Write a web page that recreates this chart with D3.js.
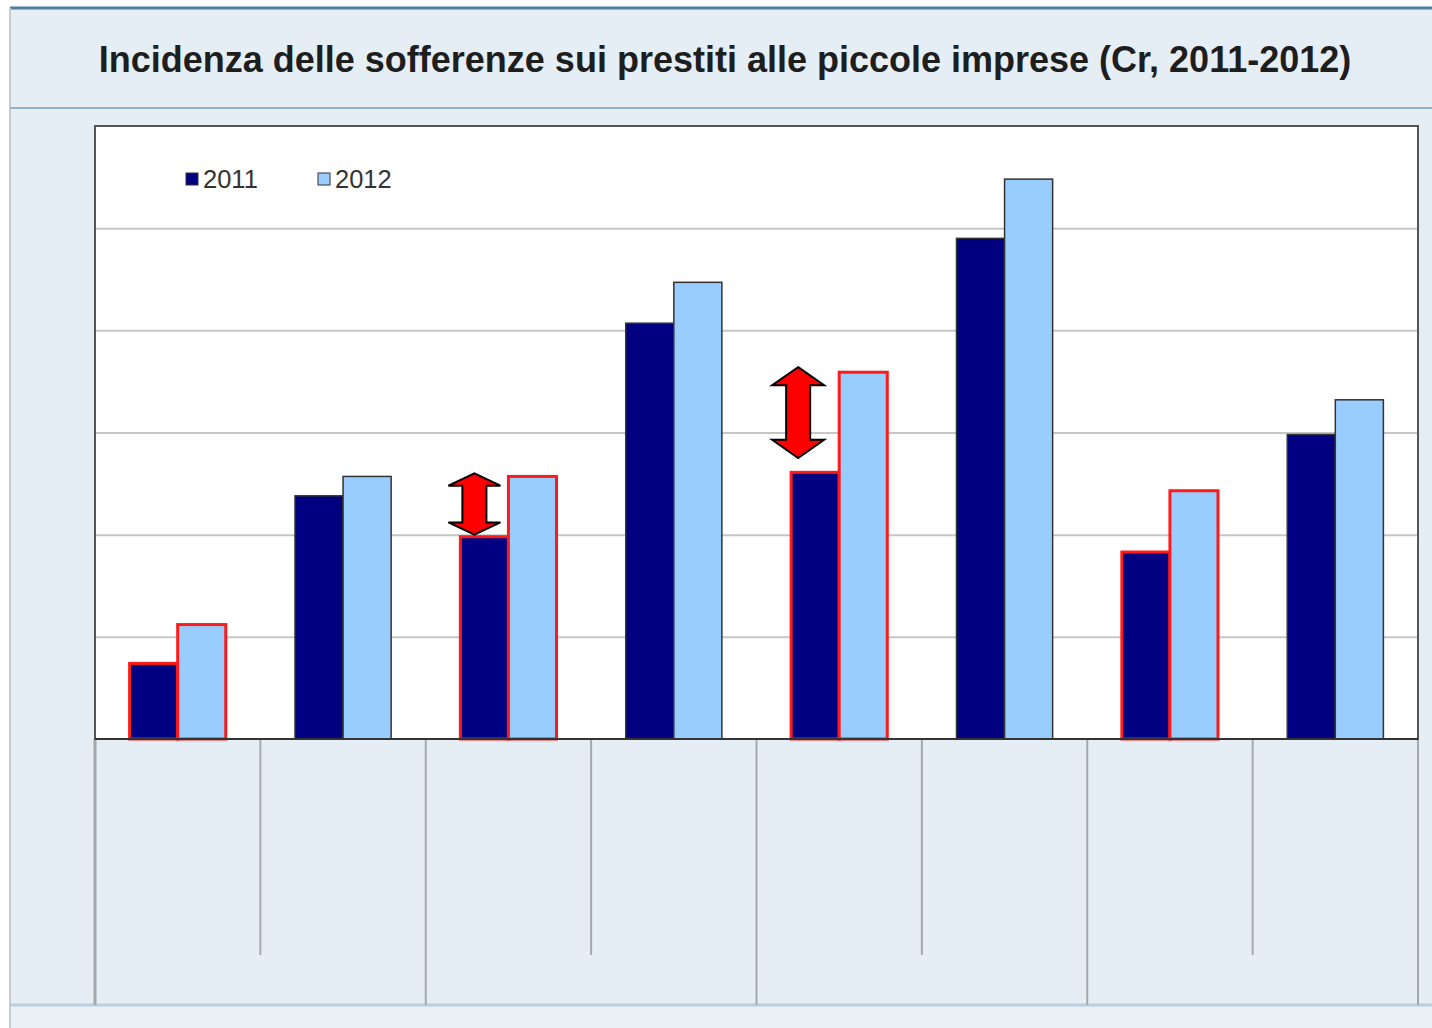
<!DOCTYPE html>
<html>
<head>
<meta charset="utf-8">
<script src="https://cdn.jsdelivr.net/npm/d3@7"></script>
<style>
  body { margin: 0; background: #fff; }
  svg { display: block; }
</style>
</head>
<body>
<div id="chart"></div>
<script>
// data
var title = 'Incidenza delle sofferenze sui prestiti alle piccole imprese (Cr, 2011-2012)';
var categories = ['c1', 'c2', 'c3', 'c4', 'c5', 'c6', 'c7', 'c8'];
var series = ['2011', '2012'];
var values2011 = [0.74, 2.38, 1.98, 4.07, 2.61, 4.90, 1.83, 2.98];
var values2012 = [1.12, 2.57, 2.57, 4.47, 3.59, 5.48, 2.43, 3.32];
var highlighted = ['c1', 'c3', 'c5', 'c7'];
var gridTicks = [0, 1, 2, 3, 4, 5, 6];
// red double arrows: category, from value, to value
var arrowCats = ['c3', 'c5'];
var arrowFrom = [2.0, 2.75];
var arrowTo = [2.6, 3.64];
var arrowShift = [-10, -17];

var colors = { '2011': '#000080', '2012': '#99ccff' };

var W = 1432, H = 1028;
var plot = { left: 95, right: 1418, top: 126, bottom: 739 };

var svg = d3.select('#chart')
	.append('svg')
	.attr('width', W)
	.attr('height', H);

// background panels
svg.append('rect')
	.attr('x', 10).attr('y', 8)
	.attr('width', W - 10).attr('height', H - 8)
	.attr('fill', '#e6eef5');
svg.append('rect')
	.attr('x', 10).attr('y', 1006)
	.attr('width', W - 10).attr('height', H - 1006)
	.attr('fill', '#eaf0f6');
svg.append('line')
	.attr('x1', 10).attr('x2', W).attr('y1', 8).attr('y2', 8)
	.attr('stroke', '#4f7f9e').attr('stroke-width', 3);
svg.append('line')
	.attr('x1', 10).attr('x2', 10).attr('y1', 8).attr('y2', H)
	.attr('stroke', '#c4ccd2').attr('stroke-width', 2);
svg.append('line')
	.attr('x1', 10).attr('x2', W).attr('y1', 108).attr('y2', 108)
	.attr('stroke', '#8fb3cc').attr('stroke-width', 2);
svg.append('line')
	.attr('x1', 10).attr('x2', W).attr('y1', 1005).attr('y2', 1005)
	.attr('stroke', '#b9cfe0').attr('stroke-width', 3);

// title
svg.append('text')
	.attr('x', 725)
	.attr('y', 72)
	.attr('text-anchor', 'middle')
	.style('font-family', 'Liberation Sans, Arial, Helvetica')
	.style('font-weight', 'bold')
	.style('font-size', '36px')
	.style('fill', '#1e1e1e')
	.text(title);

// scales
var x0 = d3.scaleBand()
	.domain(categories)
	.range([plot.left, plot.right])
	.paddingInner(0);
var x1 = d3.scaleBand()
	.domain(series)
	.range([0, x0.bandwidth()])
	.paddingInner(0)
	.paddingOuter(0.72);
var y = d3.scaleLinear()
	.domain([0, 6])
	.range([plot.bottom, plot.top]);

// table lines under the plot
var bounds = categories.map(function(c) { return x0(c); }).concat([plot.right]);
svg.selectAll('.table-line')
	.data(bounds)
	.enter()
	.append('line')
	.attr('class', 'table-line')
	.attr('x1', function(d) { return d; })
	.attr('x2', function(d) { return d; })
	.attr('y1', plot.bottom)
	.attr('y2', function(d, i) { return i % 2 === 0 ? 1005 : 955; })
	.attr('stroke', '#a4a9ad')
	.attr('stroke-width', function(d, i) { return i === 0 ? 3 : 2; });

// plot background
svg.append('rect')
	.attr('x', plot.left).attr('y', plot.top)
	.attr('width', plot.right - plot.left)
	.attr('height', plot.bottom - plot.top)
	.attr('fill', '#fff');

// gridlines
var grid = d3.axisLeft(y)
	.tickValues(gridTicks.slice(1, -1))
	.tickSize(-(plot.right - plot.left))
	.tickFormat('');
var gridG = svg.append('g')
	.attr('class', 'grid')
	.attr('transform', 'translate(' + plot.left + ',0)')
	.call(grid);
gridG.select('.domain').remove();
gridG.selectAll('line')
	.attr('stroke', '#c6c6c6')
	.attr('stroke-width', 2);

// bars
var rows = categories.map(function(c, i) {
	return { cat: c, vals: [values2011[i], values2012[i]] };
});
var groups = svg.selectAll('.group')
	.data(rows)
	.enter()
	.append('g')
	.attr('class', 'group')
	.attr('transform', function(d) { return 'translate(' + x0(d.cat) + ',0)'; });

groups.selectAll('rect')
	.data(function(d) {
		return series.map(function(s, j) {
			return { cat: d.cat, key: s, value: d.vals[j] };
		});
	})
	.enter()
	.append('rect')
	.attr('x', function(d) { return x1(d.key); })
	.attr('width', x1.bandwidth())
	.attr('y', function(d) { return y(d.value); })
	.attr('height', function(d) { return y(0) - y(d.value); })
	.attr('fill', function(d) { return colors[d.key]; })
	.attr('stroke', function(d) {
		return highlighted.indexOf(d.cat) >= 0 ? '#ff1a1a' : '#333';
	})
	.attr('stroke-width', function(d) {
		return highlighted.indexOf(d.cat) >= 0 ? 3 : 1.5;
	});

// plot frame
svg.append('rect')
	.attr('x', plot.left).attr('y', plot.top)
	.attr('width', plot.right - plot.left)
	.attr('height', plot.bottom - plot.top)
	.attr('fill', 'none')
	.attr('stroke', '#555')
	.attr('stroke-width', 2);
svg.append('line')
	.attr('x1', plot.left).attr('x2', plot.right)
	.attr('y1', plot.bottom).attr('y2', plot.bottom)
	.attr('stroke', '#333')
	.attr('stroke-width', 2);

// arrows
function arrowPath (cx, top, bottom) {
	var hw = 26, sw = 12;
	var hh = Math.min(20, (bottom - top) * 0.2);
	return 'M' + cx + ',' + top +
		'L' + (cx + hw) + ',' + (top + hh) +
		'L' + (cx + sw) + ',' + (top + hh) +
		'L' + (cx + sw) + ',' + (bottom - hh) +
		'L' + (cx + hw) + ',' + (bottom - hh) +
		'L' + cx + ',' + bottom +
		'L' + (cx - hw) + ',' + (bottom - hh) +
		'L' + (cx - sw) + ',' + (bottom - hh) +
		'L' + (cx - sw) + ',' + (top + hh) +
		'L' + (cx - hw) + ',' + (top + hh) + 'Z';
}
svg.selectAll('.arrow')
	.data(arrowCats)
	.enter()
	.append('path')
	.attr('class', 'arrow')
	.attr('d', function(c, i) {
		var cx = x0(c) + x1('2011') + x1.bandwidth() / 2 + arrowShift[i];
		return arrowPath(cx, y(arrowTo[i]), y(arrowFrom[i]));
	})
	.attr('fill', '#ff0000')
	.attr('stroke', '#000')
	.attr('stroke-width', 2)
	.attr('stroke-linejoin', 'miter');

// legend
var legend = svg.append('g')
	.attr('class', 'legend')
	.attr('transform', 'translate(186,173)');
var items = legend.selectAll('.item')
	.data(series)
	.enter()
	.append('g')
	.attr('class', 'item')
	.attr('transform', function(d, i) { return 'translate(' + (i * 132) + ',0)'; });
items.append('rect')
	.attr('width', 12).attr('height', 12)
	.attr('fill', function(d) { return colors[d]; })
	.attr('stroke', '#333')
	.attr('stroke-width', 1);
items.append('text')
	.attr('x', 17)
	.attr('y', 15)
	.style('font-family', 'Liberation Sans, Arial, Helvetica')
	.style('font-size', '25.5px')
	.style('fill', '#333')
	.text(function(d) { return d; });
</script>
</body>
</html>
